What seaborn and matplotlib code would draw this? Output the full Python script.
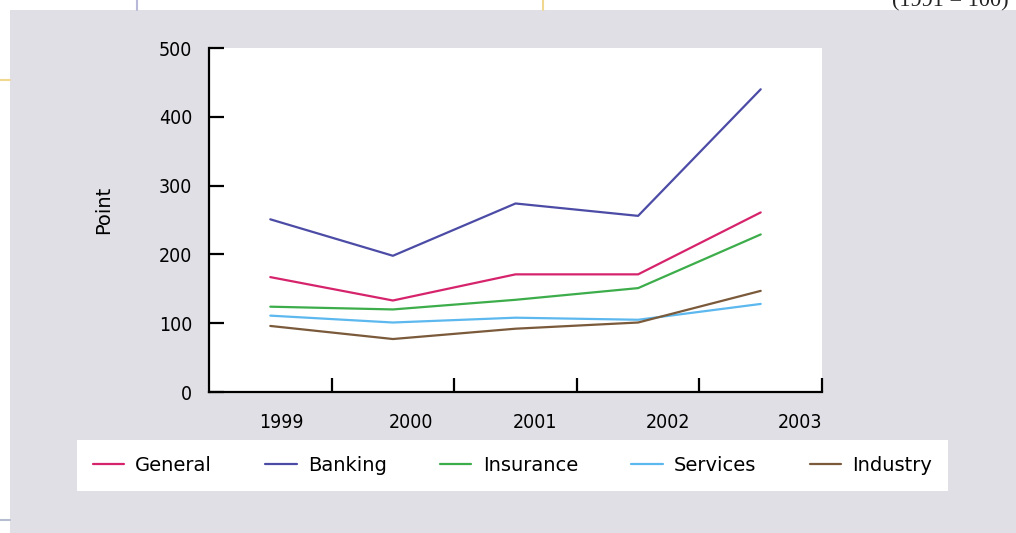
import matplotlib
matplotlib.use("Agg")
import matplotlib.pyplot as plt
import matplotlib.patches as mpatches
import matplotlib.lines as mlines
import numpy as np
import pandas as pd
import seaborn as sns

# Sector index values (1991 = 100)
years = ["1999", "2000", "2001", "2002", "2003"]
general = [167, 133, 171, 171, 261]
banking = [251, 198, 274, 256, 440]
insurance = [124, 120, 134, 151, 229]
services = [111, 101, 108, 105, 128]
industry = [96, 77, 92, 101, 147]

series_names = ["General", "Banking", "Insurance", "Services", "Industry"]
series_values = [general, banking, insurance, services, industry]
series_colors = ["#d6246c", "#4c4ca6", "#3cad4a", "#5cb8ee", "#7a5a3a"]
y_ticks = [0, 100, 200, 300, 400, 500]

records = []
for name, vals in zip(series_names, series_values):
    for i, v in enumerate(vals):
        records.append({"pos": i, "value": v, "series": name})
df = pd.DataFrame(records)

sns.set_theme(style="white")
plt.rcParams["font.family"] = ["DejaVu Sans"]
plt.rcParams["font.stretch"] = "condensed"

W, H = 1016, 533
fig = plt.figure(figsize=(W / 100, H / 100), dpi=100, facecolor="white")

# grey panel behind the chart
fig.patches.append(mpatches.Rectangle((10 / W, 0), 1 - 10 / W, 1 - 10 / H,
                                      transform=fig.transFigure,
                                      facecolor="#e0dfe5", edgecolor="none",
                                      zorder=-5))
# page rules around the panel
fig.add_artist(mlines.Line2D([137 / W, 137 / W], [1, 1 - 10 / H],
                             transform=fig.transFigure, color="#b8b8d8", lw=1.5))
fig.add_artist(mlines.Line2D([543 / W, 543 / W], [1, 1 - 10 / H],
                             transform=fig.transFigure, color="#f0d890", lw=1.5))
fig.add_artist(mlines.Line2D([0, 10 / W], [1 - 80 / H, 1 - 80 / H],
                             transform=fig.transFigure, color="#f0d890", lw=1.5))
fig.add_artist(mlines.Line2D([0, 10 / W], [1 - 520 / H, 1 - 520 / H],
                             transform=fig.transFigure, color="#b8bcd0", lw=1.5))
fig.text(892 / W, 1 - 6 / H, "(1991 = 100)", family="Liberation Serif",
         fontsize=16, ha="left", va="baseline", color="#222222")

ax = fig.add_axes([209 / W, 1 - 392 / H, (822 - 209) / W, (392 - 48) / H])
ax.set_facecolor("white")
ax.set_zorder(1)

sns.lineplot(data=df, x="pos", y="value", hue="series",
             hue_order=series_names, palette=series_colors,
             linewidth=1.6, legend=False, ax=ax)

ax.set_xlim(-0.5, 4.5)
ax.set_ylim(0, 500)

for side in ["top", "right"]:
    ax.spines[side].set_visible(False)
for side in ["left", "bottom"]:
    ax.spines[side].set_color("black")
    ax.spines[side].set_linewidth(1.6)

ax.set_yticks(y_ticks)
ax.set_yticklabels([str(t) for t in y_ticks])
ax.tick_params(axis="y", direction="in", length=11, width=1.6,
               pad=12, labelsize=14, colors="black", left=True)

# tick marks between years, year labels near the interval centres
ax.set_xticks([0.5, 1.5, 2.5, 3.5, 4.5])
ax.set_xticklabels([])
ax.tick_params(axis="x", which="major", direction="in", length=10,
               width=1.6, colors="black", bottom=True)
ax.set_xticks([0.09, 1.15, 2.16, 3.24, 4.32], minor=True)
ax.set_xticklabels(years, minor=True)
ax.tick_params(axis="x", which="minor", length=0, pad=15, labelsize=14,
               colors="black")
ax.set_xlabel("")
ax.set_ylabel("")

fig.text(104 / W, 1 - 210 / H, "Point", rotation=90, ha="center",
         va="center", fontsize=14, fontstretch="normal", color="black")

handles = [mlines.Line2D([], [], color=c, lw=1.6) for c in series_colors]
leg = fig.legend(handles, series_names, loc="center",
                 bbox_to_anchor=(77 / W, 1 - 490 / H, (948 - 77) / W, 49 / H),
                 bbox_transform=fig.transFigure, mode="expand", ncol=5,
                 frameon=True, fancybox=False, framealpha=1,
                 facecolor="white", edgecolor="white", labelcolor="black",
                 prop={"size": 14, "stretch": "normal"},
                 handlelength=1.6, handletextpad=0.6, borderaxespad=0,
                 borderpad=0.8)
leg.get_frame().set_linewidth(0)

fig.savefig("out.png", dpi=100, facecolor="white")
